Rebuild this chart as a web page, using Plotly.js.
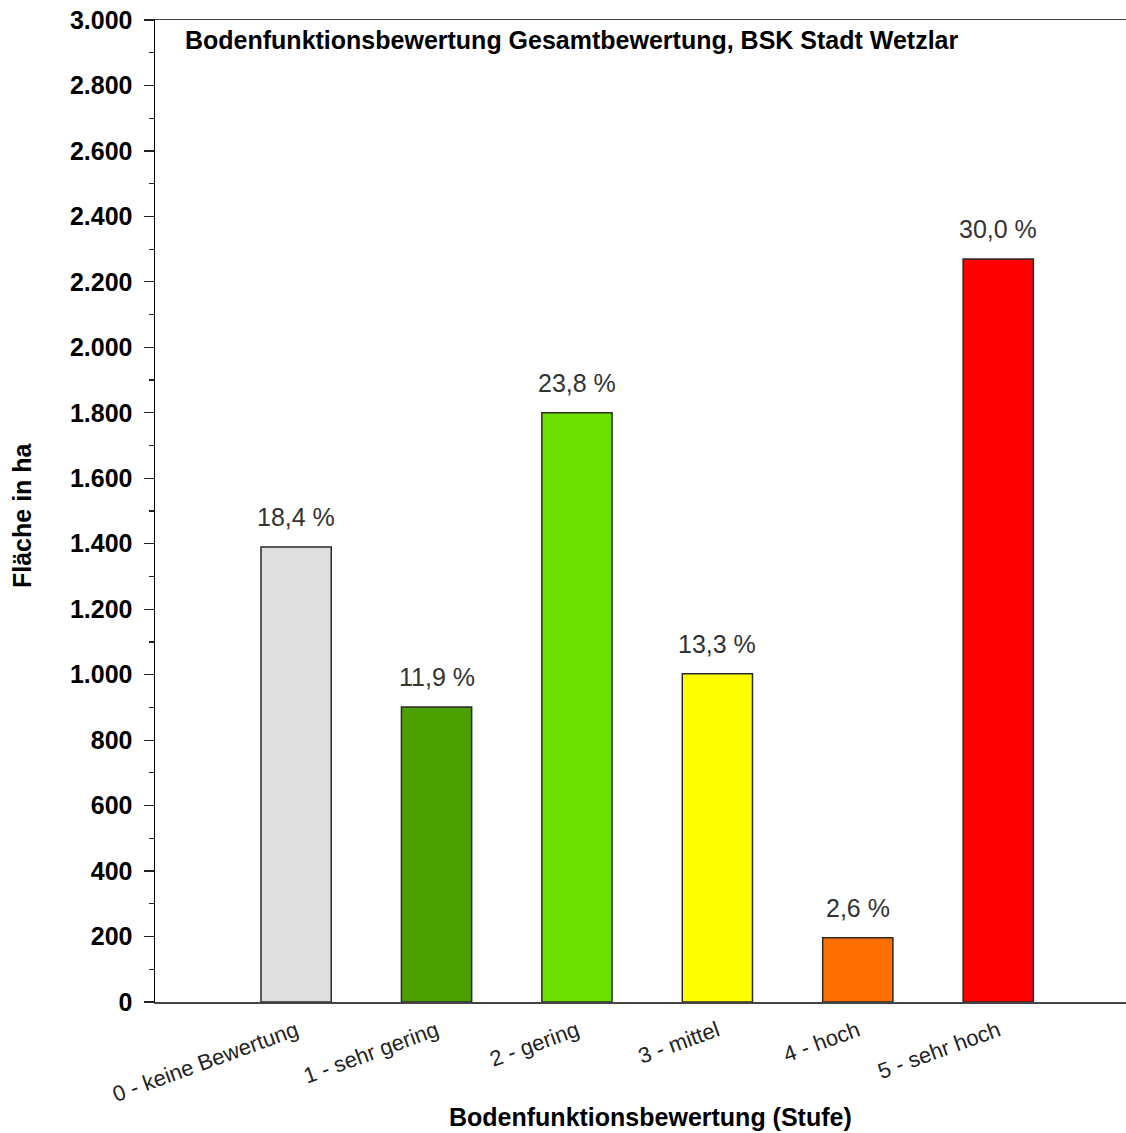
<!DOCTYPE html>
<html>
<head>
<meta charset="utf-8">
<script src="https://cdn.plot.ly/plotly-3.0.1.min.js"></script>
<style>html,body{margin:0;padding:0;background:#fff;}#chart{width:1126px;height:1133px;}</style>
</head>
<body>
<div id="chart"></div>
<script>
const categories = ["0 - keine Bewertung", "1 - sehr gering", "2 - gering", "3 - mittel", "4 - hoch", "5 - sehr hoch"];
const areaHa = [1390, 901, 1800, 1003, 196, 2270];
const percentLabels = ["18,4 %", "11,9 %", "23,8 %", "13,3 %", "2,6 %", "30,0 %"];
const barColors = ["#dfdfdf", "#4c9f00", "#6ee000", "#ffff00", "#ff6e00", "#ff0000"];
const yTickValues = [0, 200, 400, 600, 800, 1000, 1200, 1400, 1600, 1800, 2000, 2200, 2400, 2600, 2800, 3000];

const FONT = "Liberation Sans, Arial, sans-serif";
const catIndex = categories.map((c, i) => i);

const trace = {
  type: "bar",
  x: catIndex,
  y: areaHa,
  marker: {color: barColors, line: {color: "#2a2a2a", width: 1.5}},
  width: 0.5,
  hoverinfo: "none"
};

const pctAnnotations = catIndex.map(i => ({
  x: i, y: areaHa[i], xref: "x", yref: "y",
  text: percentLabels[i],
  xanchor: "center", yanchor: "bottom", yshift: 14,
  showarrow: false,
  font: {family: FONT, size: 25, color: "#333333"}
}));

const layout = {
  width: 1126, height: 1133,
  margin: {l: 155, r: 0, t: 20, b: 131},
  paper_bgcolor: "#ffffff", plot_bgcolor: "#ffffff",
  showlegend: false,
  font: {family: FONT, color: "#000"},
  title: {
    text: "<b>Bodenfunktionsbewertung Gesamtbewertung, BSK Stadt Wetzlar</b>",
    font: {family: FONT, size: 25, color: "#000"},
    xref: "paper", x: 30 / 971, xanchor: "left",
    yref: "paper", y: 1 - 20 / 982, yanchor: "middle"
  },
  xaxis: {
    range: [-1.005, 5.91],
    tickmode: "array",
    tickvals: catIndex,
    ticktext: categories,
    tickangle: -20,
    tickfont: {family: FONT, size: 22, color: "#222"},
    ticklabelstandoff: 6,
    ticks: "",
    showgrid: false, zeroline: false,
    showline: true, linecolor: "#444", linewidth: 1.5, mirror: true,
    automargin: false, fixedrange: true
  },
  yaxis: {
    range: [0, 3000],
    tickmode: "array",
    tickvals: yTickValues,
    ticktext: yTickValues.map(v => v.toLocaleString("de-DE")),
    tickfont: {family: FONT, size: 25, color: "#000", weight: "bold"},
    ticklabelstandoff: 6,
    ticks: "outside", ticklen: 10, tickwidth: 1.2, tickcolor: "#222",
    minor: {dtick: 100, tick0: 0, ticks: "outside", ticklen: 5, tickwidth: 1.2, tickcolor: "#222", showgrid: false},
    showgrid: false, zeroline: false,
    showline: true, linecolor: "#000", linewidth: 1.5,
    automargin: false, fixedrange: true
  },
  annotations: pctAnnotations.concat([
    {
      text: "<b>Bodenfunktionsbewertung (Stufe)</b>",
      xref: "paper", yref: "paper",
      x: (650 - 155) / 971, y: -(1117 - 1002) / 982,
      xanchor: "center", yanchor: "middle", showarrow: false,
      font: {family: FONT, size: 25, color: "#000"}
    },
    {
      text: "<b>Fläche in ha</b>",
      xref: "paper", yref: "paper",
      x: (22 - 155) / 971, y: (1002 - 515) / 982,
      xanchor: "center", yanchor: "middle", textangle: -90, showarrow: false,
      font: {family: FONT, size: 25, color: "#000"}
    }
  ])
};

Plotly.newPlot("chart", [trace], layout, {displayModeBar: false, staticPlot: true});
</script>
</body>
</html>
